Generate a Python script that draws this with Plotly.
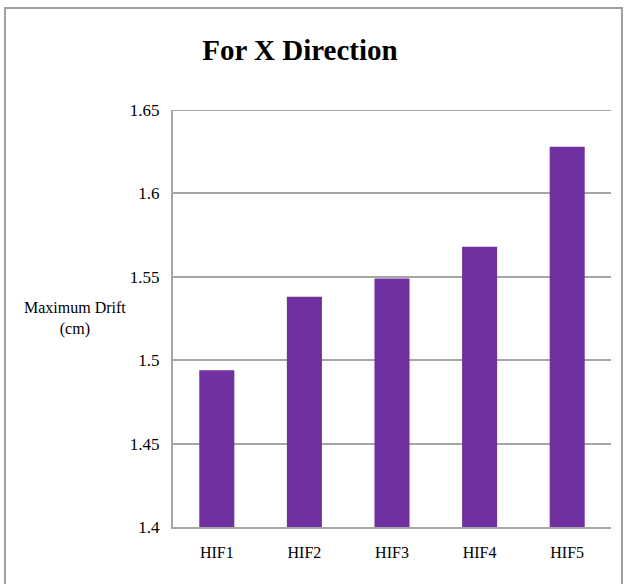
import plotly.graph_objects as go

categories = ["HIF1", "HIF2", "HIF3", "HIF4", "HIF5"]
max_drift = [1.494, 1.538, 1.549, 1.568, 1.628]
y_ticks = [1.4, 1.45, 1.5, 1.55, 1.6, 1.65]
y_tick_labels = ["1.4", "1.45", "1.5", "1.55", "1.6", "1.65"]

W, H = 624, 584
L, R, T, B = 173, 13, 110, 57
pw, ph = W - L - R, H - T - B

def px_x(x):
    return (x - L) / pw

def px_y(y):
    return (H - B - y) / ph

font = "Liberation Serif, Times New Roman, serif"
grid = "#a6a6a6"

fig = go.Figure(go.Bar(
    x=categories, y=max_drift,
    marker=dict(color="#7030A0", line=dict(width=0)),
    hoverinfo="x+y",
))

fig.update_layout(
    width=W, height=H,
    margin=dict(l=L, r=R, t=T, b=B),
    paper_bgcolor="white", plot_bgcolor="white",
    bargap=0.6,
    showlegend=False,
    title=dict(text="<b>For X Direction</b>", x=px_x(300), xref="paper", xanchor="center",
               y=1 - 50 / H, yref="container", yanchor="middle",
               font=dict(family=font, size=29, color="black")),
    xaxis=dict(showgrid=False, showline=True, linecolor=grid, linewidth=2,
               ticks="", zeroline=False,
               tickfont=dict(family=font, size=16, color="black"), ticklabelstandoff=10),
    yaxis=dict(range=[1.4, 1.65], tickvals=y_ticks, ticktext=y_tick_labels,
               showgrid=True, gridcolor=grid, gridwidth=2,
               showline=True, linecolor=grid, linewidth=2,
               ticks="", zeroline=False,
               tickfont=dict(family=font, size=17, color="black"), ticklabelstandoff=8),
    annotations=[dict(text="Maximum Drift<br>(cm)", xref="paper", yref="paper",
                      x=px_x(75), y=px_y(318), xanchor="center", yanchor="middle",
                      showarrow=False, align="center",
                      font=dict(family=font, size=16, color="black"))],
    shapes=[dict(type="rect", xref="paper", yref="paper",
                 x0=px_x(5), x1=px_x(622), y0=px_y(600), y1=px_y(8),
                 line=dict(color="#a0a0a0", width=2), layer="below"),
            dict(type="line", xref="paper", yref="y", x0=0, x1=1,
                 y0=y_ticks[-1], y1=y_ticks[-1],
                 line=dict(color=grid, width=2), layer="below")],
)

fig.write_html("out.html", config={"displayModeBar": False},
               post_script="document.body.style.margin='0';document.body.style.overflow='hidden';")
